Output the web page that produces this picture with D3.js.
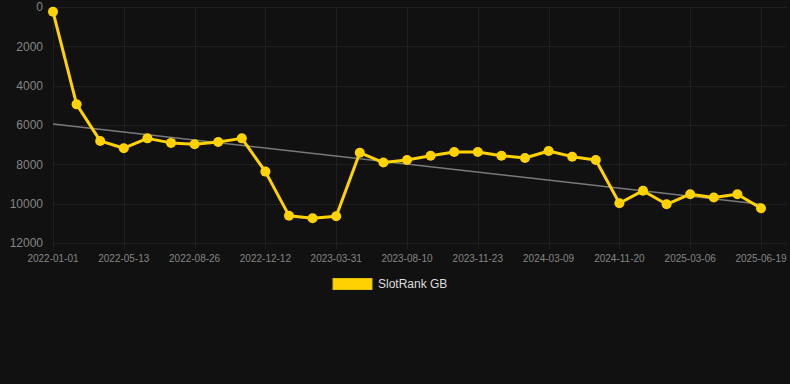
<!DOCTYPE html>
<html>
<head>
<meta charset="utf-8">
<script src="https://cdn.jsdelivr.net/npm/d3@7"></script>
<style>
  body { margin: 0; background: #111111; }
  svg { display: block; font-family: Arial, "Liberation Sans", sans-serif; }
</style>
</head>
<body>
<script>
// Dates on the x axis (one per point)
var dates = [
  "2022-01-01", "2022-02-12", "2022-03-27", "2022-05-13", "2022-06-17", "2022-07-22",
  "2022-08-26", "2022-09-30", "2022-11-04", "2022-12-12", "2023-01-15", "2023-02-20",
  "2023-03-31", "2023-05-05", "2023-06-18", "2023-08-10", "2023-09-14", "2023-10-19",
  "2023-11-23", "2023-12-28", "2024-02-02", "2024-03-09", "2024-05-15", "2024-08-20",
  "2024-11-20", "2024-12-25", "2025-01-30", "2025-03-06", "2025-04-10", "2025-05-15",
  "2025-06-19"
];

// SlotRank GB rank values
var ranks = [
  240, 4950, 6810, 7180, 6680, 6910, 6980, 6860, 6680, 8370, 10610, 10740,
  10640, 7410, 7910, 7780, 7560, 7370, 7370, 7560, 7680, 7320, 7610, 7780,
  9980, 9340, 10030, 9520, 9690, 9520, 10230
];

// Trend line end values
var trendStart = 5950;
var trendEnd = 10030;

var yTicks = [0, 2000, 4000, 6000, 8000, 10000, 12000];

var width = 790, height = 384;
var plotLeft = 53, plotRight = 761, plotTop = 7, plotBottom = 243, gridRight = 786;

var svg = d3.select('body').append('svg')
  .attr('width', width)
  .attr('height', height);

var x = d3.scalePoint()
  .domain(d3.range(dates.length))
  .range([plotLeft, plotRight]);

var y = d3.scaleLinear()
  .domain([0, 12000])
  .range([plotTop, plotBottom]);

// horizontal grid
svg.append('g')
  .selectAll('line')
  .data(yTicks)
  .enter().append('line')
  .attr('x1', plotLeft)
  .attr('x2', gridRight)
  .attr('y1', d => Math.round(y(d)) + 0.5)
  .attr('y2', d => Math.round(y(d)) + 0.5)
  .attr('stroke', '#1f1f1f')
  .attr('stroke-width', 1);

// vertical grid, every third point
var labelIdx = d3.range(0, dates.length, 3);
svg.append('g')
  .selectAll('line')
  .data(labelIdx)
  .enter().append('line')
  .attr('x1', d => Math.round(x(d)) + 0.5)
  .attr('x2', d => Math.round(x(d)) + 0.5)
  .attr('y1', plotTop)
  .attr('y2', plotBottom + 6)
  .attr('stroke', '#1f1f1f')
  .attr('stroke-width', 1);

// y labels
svg.append('g')
  .selectAll('text')
  .data(yTicks)
  .enter().append('text')
  .attr('x', 43)
  .attr('y', d => y(d))
  .attr('dy', '0.35em')
  .attr('text-anchor', 'end')
  .attr('font-size', 12)
  .attr('fill', '#858585')
  .text(d => d);

// x labels
svg.append('g')
  .selectAll('text')
  .data(labelIdx)
  .enter().append('text')
  .attr('x', d => x(d))
  .attr('y', 262)
  .attr('text-anchor', 'middle')
  .attr('font-size', 10)
  .attr('fill', '#858585')
  .text(d => dates[d]);

// trend line
svg.append('line')
  .attr('x1', x(0))
  .attr('x2', x(dates.length - 1))
  .attr('y1', y(trendStart))
  .attr('y2', y(trendEnd))
  .attr('stroke', '#7a7a7a')
  .attr('stroke-width', 1.5);

// series line
var line = d3.line()
  .x((d, i) => x(i))
  .y(d => y(d));

svg.append('path')
  .datum(ranks)
  .attr('d', line)
  .attr('fill', 'none')
  .attr('stroke', '#FFD200')
  .attr('stroke-width', 3)
  .attr('stroke-linejoin', 'round');

svg.append('g')
  .selectAll('circle')
  .data(ranks)
  .enter().append('circle')
  .attr('cx', (d, i) => x(i))
  .attr('cy', d => y(d))
  .attr('r', 5)
  .attr('fill', '#FFD200');

// legend
svg.append('rect')
  .attr('x', 333)
  .attr('y', 278.5)
  .attr('width', 39)
  .attr('height', 11)
  .attr('fill', '#FFD200')
  .attr('stroke', '#E6BC00')
  .attr('stroke-width', 1);

svg.append('text')
  .attr('x', 378)
  .attr('y', 284)
  .attr('dy', '0.35em')
  .attr('font-size', 12)
  .attr('fill', '#dddddd')
  .text('SlotRank GB');
</script>
</body>
</html>
